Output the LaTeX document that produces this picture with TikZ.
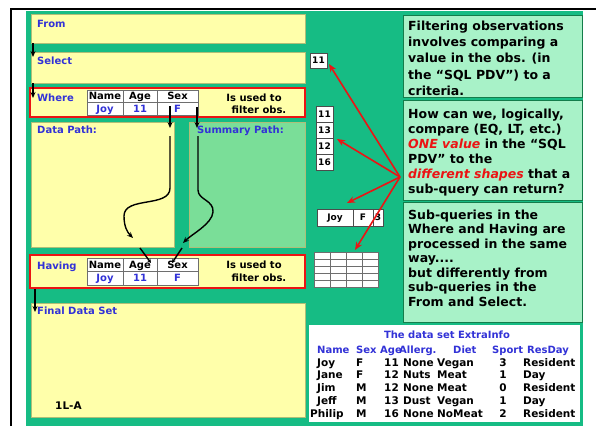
\documentclass[tikz,border=0pt]{standalone}
\usepackage{fontspec}
\setmainfont{DejaVu Sans}
\usetikzlibrary{arrows.meta}
\definecolor{bggreen}{RGB}{22,188,132}
\definecolor{yfill}{RGB}{255,255,170}
\definecolor{ybord}{RGB}{175,190,120}
\definecolor{sfill}{RGB}{122,222,152}
\definecolor{tfill}{RGB}{168,242,200}
\definecolor{tbord}{RGB}{20,125,75}
\definecolor{lblue}{RGB}{50,50,215}
\definecolor{rred}{RGB}{235,20,20}
\definecolor{cellline}{RGB}{110,110,110}
\begin{document}
\begin{tikzpicture}[x=1pt,y=-1pt,
  box/.style={anchor=north west, inner sep=0pt, outer sep=0pt},
  ybox/.style={box, draw=ybord, fill=yfill, line width=0.8pt},
  rbox/.style={box, draw=rred, fill=yfill, line width=1.6pt},
  sbox/.style={box, draw=ybord, fill=sfill, line width=0.8pt},
  tbox/.style={box, draw=tbord, fill=tfill, line width=0.8pt},
  lbl/.style={anchor=base west, inner sep=0pt, text=lblue, font=\bfseries\fontsize{10}{12}\selectfont},
  cell/.style={box, draw=cellline, fill=white, line width=0.5pt, font=\bfseries\fontsize{10}{12}\selectfont, text height=7.4pt, text depth=0pt},
  nbox/.style={box, draw=black!70, fill=white, line width=0.5pt, font=\bfseries\fontsize{9}{10}\selectfont, text height=6.6pt, text depth=0pt},
  note/.style={anchor=base, inner sep=0pt, font=\bfseries\fontsize{10}{12}\selectfont},
  para/.style={anchor=north west, inner sep=0pt, align=left, font=\bfseries\fontsize{12.5}{#1}\selectfont},
  tb/.style={anchor=base west, inner sep=0pt, font=\bfseries\fontsize{10.5}{12}\selectfont},
  tbh/.style={anchor=base west, inner sep=0pt, text=lblue, font=\bfseries\fontsize{10}{12}\selectfont},
  blk/.style={-{Stealth[length=6pt,width=5pt]}, line width=1.4pt, black},
  rarr/.style={-{Stealth[length=8pt,width=6.5pt]}, line width=1.6pt, rred}
]
\useasboundingbox (0,0) rectangle (596,426);
\fill[white] (0,0) rectangle (596,426);
\fill[bggreen] (26,11) rectangle (583,426);
\draw[black, line width=1.5pt] (11,426) -- (11,9) -- (596,9);

% left column boxes
\node[ybox, minimum width=274pt, minimum height=29pt] (from) at (31,14) {};
\node[lbl] (fromlbl) at (37,27) {From};
\node[ybox, minimum width=274pt, minimum height=31pt] (select) at (31,52) {};
\node[lbl] (selectlbl) at (37,64) {Select};
\node[rbox, minimum width=275pt, minimum height=29pt] (where) at (30,88) {};
\node[lbl] (wherelbl) at (37,101) {Where};
\node[ybox, minimum width=143pt, minimum height=125pt] (data) at (31,122) {};
\node[lbl] (datalbl) at (37,133) {Data Path:};
\node[sbox, minimum width=116pt, minimum height=125pt] (summ) at (189,122) {};
\node[lbl] (summlbl) at (197,133) {Summary Path:};
\node[rbox, minimum width=275pt, minimum height=33pt] (having) at (30,255) {};
\node[lbl] (havinglbl) at (37,269) {Having};
\node[ybox, minimum width=274pt, minimum height=114pt] (final) at (31,303) {};
\node[lbl] (finallbl) at (37,314) {Final Data Set};
\node[note, anchor=base west, font=\bfseries\fontsize{10.5}{12}\selectfont] (code) at (55,409) {1L-A};

% Where table
\node[cell, minimum width=36pt, minimum height=12pt] (wn) at (87,90) {Name};
\node[cell, minimum width=34pt, minimum height=12pt] (wa) at (123,90) {Age};
\node[cell, minimum width=41pt, minimum height=12pt] (ws) at (157,90) {Sex};
\node[cell, text=lblue, minimum width=36pt, minimum height=13pt] (wjoy) at (87,102) {Joy};
\node[cell, text=lblue, minimum width=34pt, minimum height=13pt] (w11) at (123,102) {11};
\node[cell, text=lblue, minimum width=41pt, minimum height=13pt] (wf) at (157,102) {F};
\node[note] (wuse1) at (254,101) {Is used to};
\node[note] (wuse2) at (259,113) {filter obs.};

% Having table
\node[cell, minimum width=36pt, minimum height=13pt] (hn) at (87,258) {Name};
\node[cell, minimum width=34pt, minimum height=13pt] (ha) at (123,258) {Age};
\node[cell, minimum width=41pt, minimum height=13pt] (hs) at (157,258) {Sex};
\node[cell, text=lblue, minimum width=36pt, minimum height=14pt] (hjoy) at (87,271) {Joy};
\node[cell, text=lblue, minimum width=34pt, minimum height=14pt] (h11) at (123,271) {11};
\node[cell, text=lblue, minimum width=41pt, minimum height=14pt] (hf) at (157,271) {F};
\node[note] (huse1) at (254,268) {Is used to};
\node[note] (huse2) at (259,281) {filter obs.};

% black arrows
\coordinate (a1s) at (33,43); \coordinate (a1e) at (33,57);
\coordinate (a2s) at (33,83); \coordinate (a2e) at (33,98);
\coordinate (a3s) at (35,289); \coordinate (a3e) at (35,312);
\draw[blk] (a1s) -- (a1e);
\draw[blk] (a2s) -- (a2e);
\draw[blk] (a3s) -- (a3e);
\coordinate (d1s) at (170,106); \coordinate (d1e) at (170,128);
\coordinate (d2s) at (197,107); \coordinate (d2e) at (197,128);
\draw[blk] (d1s) -- (d1e);
\draw[blk] (d2s) -- (d2e);
\coordinate (c1s) at (170,136); \coordinate (c1e) at (133,238);
\coordinate (c2s) at (198,136); \coordinate (c2e) at (183,243);
\draw[blk] (c1s) -- (170,188) .. controls (170,208) and (124,196) .. (124,216) .. controls (124,226) and (127,232) .. (c1e);
\draw[blk] (c2s) -- (198,190) .. controls (198,200) and (214,200) .. (213,212) .. controls (212,224) and (192,234) .. (c2e);
\coordinate (e1s) at (140,248); \coordinate (e1e) at (151,263);
\coordinate (e2s) at (182,248); \coordinate (e2e) at (172,263);
\draw[blk, -{Stealth[length=4pt,width=4pt]}] (e1s) -- (e1e);
\draw[blk, -{Stealth[length=4pt,width=4pt]}] (e2s) -- (e2e);

% middle shapes
\node[nbox, minimum width=17pt, minimum height=15pt] (b11) at (310,53) {11};
\node[nbox, minimum width=17pt, minimum height=16pt] (s1) at (316,106) {11};
\node[nbox, minimum width=17pt, minimum height=16pt] (s2) at (316,122) {13};
\node[nbox, minimum width=17pt, minimum height=16pt] (s3) at (316,138) {12};
\node[nbox, minimum width=17pt, minimum height=16pt] (s4) at (316,154) {16};
\node[nbox, minimum width=36pt, minimum height=17pt] (rj) at (317,209) {Joy};
\node[nbox, minimum width=20pt, minimum height=17pt] (rf) at (353,209) {F};
\node[nbox, minimum width=10pt, minimum height=17pt] (r3) at (373,209) {3};
\node[box, draw=cellline, fill=white, line width=0.7pt, minimum width=64pt, minimum height=35pt] (grid) at (314,252) {};
\foreach \gx in {330,346,362} \draw[cellline, line width=0.7pt] (\gx,252) -- (\gx,287);
\foreach \gy in {259,266,273,280} \draw[cellline, line width=0.7pt] (314,\gy) -- (378,\gy);

% red arrows
\coordinate (rsrc) at (400,177);
\coordinate (r11) at (329,64);
\coordinate (r12) at (337,139);
\coordinate (rjoy) at (347,203);
\coordinate (rgrid) at (355,250);
\draw[rarr] (rsrc) -- (r11);
\draw[rarr] (rsrc) -- (r12);
\draw[rarr] (rsrc) -- (rjoy);
\draw[rarr] (rsrc) -- (rgrid);

% right text boxes
\node[tbox, minimum width=179pt, minimum height=82pt] (t1) at (403,15) {};
\node[para=16.3] (t1txt) at (408,20.5) {Filtering observations\\involves comparing a\\value in the obs. (in\\the “SQL PDV”) to a\\criteria.};
\node[tbox, minimum width=179pt, minimum height=100pt] (t2) at (403,100) {};
\node[para=15] (t2txt) at (408,108.5) {How can we, logically,\\compare (EQ, LT, etc.)\\\textcolor{rred}{\itshape ONE value} in the “SQL\\PDV” to the\\\textcolor{rred}{\itshape different shapes} that a\\sub-query can return?};
\node[tbox, minimum width=179pt, minimum height=120pt] (t3) at (403,202) {};
\node[para=14.5] (t3txt) at (408,209.5) {Sub-queries in the\\Where and Having are\\processed in the same\\way....\\but differently from\\sub-queries in the\\From and Select.};

% data set table
\node[box, fill=white, minimum width=271pt, minimum height=97pt] (dtab) at (309,325) {};
\node[tbh, anchor=base] (dtitle) at (447,338) {The data set ExtraInfo};
\node[tbh] (hName) at (317,353) {Name};
\node[tbh] (hSex) at (356,353) {Sex};
\node[tbh] (hAge) at (380,353) {Age};
\node[tbh] (hAll) at (399,353) {Allerg.};
\node[tbh] (hDiet) at (453,353) {Diet};
\node[tbh] (hSport) at (492,353) {Sport};
\node[tbh] (hRes) at (527,353) {ResDay};
\foreach \i/\yy/\nx/\nm/\sx/\ag/\al/\di/\sp/\rd in {
  1/366/317/Joy/F/11/None/Vegan/3/Resident,
  2/378.5/317/Jane/F/12/Nuts/Meat/1/Day,
  3/391.5/317/Jim/M/12/None/Meat/0/Resident,
  4/404.5/317/Jeff/M/13/Dust/Vegan/1/Day,
  5/417/310/Philip/M/16/None/NoMeat/2/Resident}{
  \node[tb] (rn\i) at (\nx,\yy) {\nm};
  \node[tb] (rs\i) at (356,\yy) {\sx};
  \node[tb, anchor=base east] (ra\i) at (399,\yy) {\ag};
  \node[tb] (rl\i) at (403,\yy) {\al};
  \node[tb] (rd\i) at (437,\yy) {\di};
  \node[tb, anchor=base] (rp\i) at (503,\yy) {\sp};
  \node[tb] (rr\i) at (523,\yy) {\rd};
}
\end{tikzpicture}
\end{document}
